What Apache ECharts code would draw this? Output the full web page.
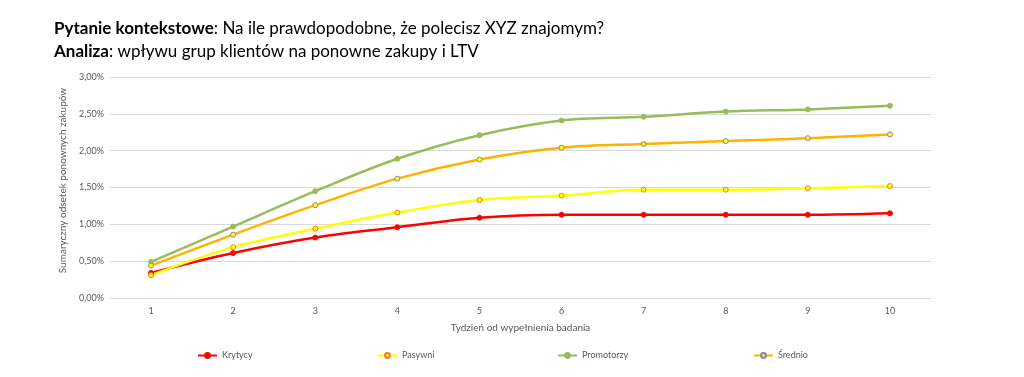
<!DOCTYPE html>
<html><head><meta charset="utf-8">
<script src="https://cdn.jsdelivr.net/npm/echarts@6/dist/echarts.min.js"></script>
<style>html,body{margin:0;padding:0;background:#fff}#c{width:1024px;height:377px}</style>
</head><body><div id="c"></div>
<script>
const weeks = ['1','2','3','4','5','6','7','8','9','10'];
const krytycy = [0.34,0.61,0.82,0.96,1.09,1.13,1.13,1.13,1.13,1.15];
const pasywni = [0.31,0.69,0.94,1.16,1.33,1.39,1.47,1.47,1.49,1.52];
const promotorzy = [0.49,0.97,1.45,1.89,2.21,2.41,2.46,2.53,2.56,2.61];
const srednio = [0.44,0.86,1.26,1.62,1.88,2.04,2.09,2.13,2.17,2.22];
const seriesNames = ['Krytycy','Pasywni','Promotorzy','Średnio'];

const FONT = 'Lato, "Open Sans", sans-serif';
const chart = echarts.init(document.getElementById('c'));
function mk(name, data, color, fill, border){
  return {name, type:'line', data, smooth:0.35, symbol:'circle', symbolSize:5,
    lineStyle:{color, width:2.5}, itemStyle:{color:fill, borderColor:border, borderWidth:1},
    emphasis:{disabled:true}};
}
const legendLefts = [192, 372, 552, 748];
chart.setOption({
  animation:false,
  textStyle:{fontFamily:FONT},
  title:[
    {left:49, top:15, text:'{b|Pytanie kontekstowe}: Na ile prawdopodobne, że polecisz XYZ znajomym?',
     textStyle:{fontFamily:FONT, fontSize:17, fontWeight:'normal', color:'#000', rich:{b:{fontFamily:FONT,fontSize:17,fontWeight:'bold',color:'#000'}}}},
    {left:49, top:38, text:'{b|Analiza}: wpływu grup klientów na ponowne zakupy i LTV',
     textStyle:{fontFamily:FONT, fontSize:17, fontWeight:'normal', color:'#000', rich:{b:{fontFamily:FONT,fontSize:17,fontWeight:'bold',color:'#000'}}}}
  ],
  legend: seriesNames.map((n,i)=>({data:[n], left:legendLefts[i], top:346, itemWidth:19, itemHeight:6, itemGap:3,
    textStyle:{fontFamily:FONT, fontSize:9, color:'#595959'}})),
  grid:{left:110, right:93, top:77, bottom:79},
  xAxis:{type:'category', data:weeks, boundaryGap:true,
    name:'Tydzień od wypełnienia badania', nameLocation:'middle', nameGap:25,
    nameTextStyle:{fontFamily:FONT, fontSize:10, color:'#595959'},
    axisLine:{show:false}, axisTick:{show:false},
    axisLabel:{fontFamily:FONT, fontSize:9, color:'#595959', margin:9}},
  yAxis:{type:'value', min:0, max:3, interval:0.5,
    name:'Sumaryczny odsetek ponownych zakupów', nameLocation:'middle', nameGap:38,
    nameTextStyle:{fontFamily:FONT, fontSize:10, color:'#595959', padding:[0,0,0,14]},
    axisLine:{show:false}, axisTick:{show:false},
    axisLabel:{fontFamily:FONT, fontSize:9, color:'#595959', margin:6,
      formatter:v=>v.toFixed(2).replace('.',',')+'%'},
    splitLine:{lineStyle:{color:'#d9d9d9', width:1}}},
  series:[
    mk('Krytycy', krytycy, '#FF0000', '#FF0000', '#FF0000'),
    mk('Pasywni', pasywni, '#FFFF00', '#FFFF00', '#ED7D31'),
    mk('Promotorzy', promotorzy, '#9BBB59', '#9BBB59', '#9BBB59'),
    mk('Średnio', srednio, '#FFB300', '#FFFF00', '#8E7CC3')
  ]
});
</script></body></html>
